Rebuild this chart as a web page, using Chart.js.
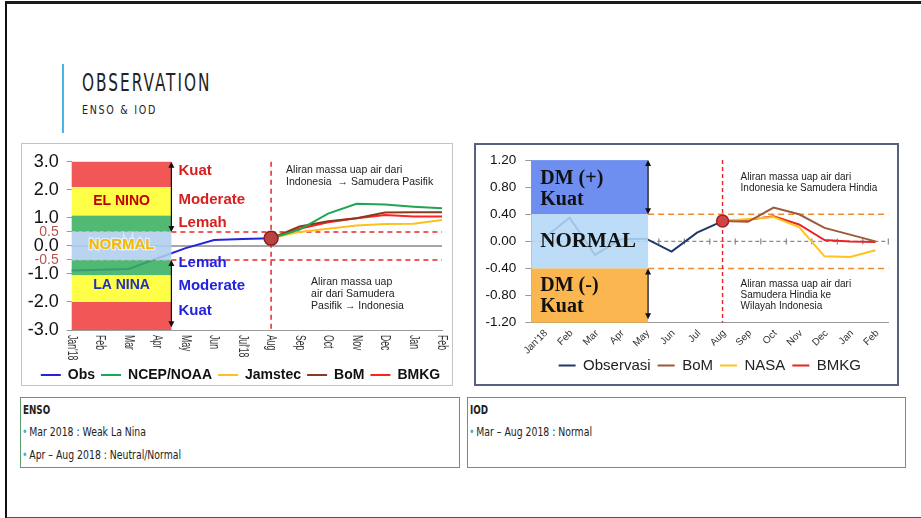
<!DOCTYPE html>
<html>
<head>
<meta charset="utf-8">
<title>Observation ENSO &amp; IOD</title>
<script src="https://cdn.jsdelivr.net/npm/chart.js@4.4.1/dist/chart.umd.min.js"></script>
<style>
  body { margin: 0; width: 921px; height: 518px; position: relative; overflow: hidden; background: #fff; font-family: Arial, "Liberation Sans", sans-serif; }
  .slide { position: absolute; left: 5px; top: 1px; width: 914px; height: 513px; border-left: 2px solid #111; border-top: 3px solid #1a1a1a; border-bottom: 2px solid #555; }
  .bar { position: absolute; left: 62px; top: 64px; width: 2px; height: 69px; background: #4bb4e6; }
  .title { position: absolute; left: 82px; top: 68px; font-family: "Liberation Sans Narrow", "DejaVu Sans Condensed", sans-serif; font-size: 25px; letter-spacing: 3px; color: #222; transform: scaleX(0.68); transform-origin: left top; white-space: nowrap; }
  .subtitle { position: absolute; left: 82px; top: 102px; font-family: "Liberation Sans Narrow", "DejaVu Sans Condensed", sans-serif; font-size: 12.5px; letter-spacing: 2px; color: #222; transform: scaleX(0.85); transform-origin: left top; white-space: nowrap; }
  .frame { position: absolute; box-sizing: border-box; }
  #ensoFrame { left: 21px; top: 143px; width: 432px; height: 243px; border: 1px solid #c4c4c4; }
  #iodFrame { left: 474px; top: 143px; width: 425px; height: 243px; border: 2px solid #55627e; }
  canvas { position: absolute; }
  #ensoChart { left: 21px; top: 143px; }
  #iodChart { left: 474px; top: 143px; }
  .box { position: absolute; top: 397px; height: 71px; box-sizing: border-box; border: 1.5px solid #5e9e6e; font-family: "Liberation Sans Narrow", "DejaVu Sans Condensed", sans-serif; font-size: 11.5px; color: #222; }
  .box .head { position: absolute; left: 2px; top: 5px; font-weight: bold; transform: scaleX(0.85); transform-origin: left top; }
  .box .item { position: absolute; left: 1px; white-space: nowrap; transform: scaleX(0.9); transform-origin: left top; }
  .box .item::before { content: "\2022"; color: #3bb5e0; margin-right: 2px; }
</style>
</head>
<body>
<div class="slide"></div>
<div class="bar"></div>
<div class="title">OBSERVATION</div>
<div class="subtitle">ENSO &amp; IOD</div>

<div class="frame" id="ensoFrame"></div>
<div class="frame" id="iodFrame"></div>
<canvas id="ensoChart" width="449" height="249"></canvas>
<canvas id="iodChart" width="424" height="240"></canvas>

<div class="box" style="left:20px; width:440px;">
  <div class="head">ENSO</div>
  <div class="item" style="top:27px;">Mar 2018 : Weak La Nina</div>
  <div class="item" style="top:50px;">Apr – Aug 2018 : Neutral/Normal</div>
</div>
<div class="box" style="left:467px; width:439px;">
  <div class="head">IOD</div>
  <div class="item" style="top:27px;">Mar – Aug 2018 : Normal</div>
</div>

<script>
'use strict';

// Data ENSO (indeks Nino 3.4)
const ensoLabels = ["Jan'18", 'Feb', 'Mar', 'Apr', 'May', 'Jun', "Jul'18", 'Aug', 'Sep', 'Oct', 'Nov', 'Dec', 'Jan', 'Feb'];
const ensoTicks = [3.0, 2.0, 1.0, 0.5, 0.0, -0.5, -1.0, -2.0, -3.0];
const ensoObs = [-0.88, -0.85, -0.82, -0.45, -0.08, 0.21, 0.25, 0.27, null, null, null, null, null, null];
const ensoNcep = [null, null, null, null, null, null, null, 0.27, 0.58, 1.15, 1.5, 1.48, 1.4, 1.34];
const ensoJamstec = [null, null, null, null, null, null, null, 0.27, 0.5, 0.61, 0.73, 0.78, 0.79, 0.92];
const ensoBom = [null, null, null, null, null, null, null, 0.27, 0.69, 0.88, 0.99, 1.19, 1.2, 1.2];
const ensoBmkg = [null, null, null, null, null, null, null, 0.27, 0.61, 0.84, 0.99, 1.1, 1.05, 1.05];

// Data IOD (Dipole Mode)
const iodLabels = ["Jan'18", 'Feb', 'Mar', 'Apr', 'May', 'Jun', 'Jul', 'Aug', 'Sep', 'Oct', 'Nov', 'Dec', 'Jan', 'Feb'];
const iodTicks = [1.2, 0.8, 0.4, 0.0, -0.4, -0.8, -1.2];
const iodObs = [0.05, 0.35, -0.2, 0.03, 0.04, -0.15, 0.13, 0.3, null, null, null, null, null, null];
const iodBom = [null, null, null, null, null, null, null, 0.3, 0.29, 0.5, 0.4, 0.2, 0.1, 0.0];
const iodNasa = [null, null, null, null, null, null, null, 0.3, 0.33, 0.36, 0.21, -0.22, -0.23, -0.13];
const iodBmkg = [null, null, null, null, null, null, null, 0.3, 0.32, 0.37, 0.25, 0.02, 0.0, -0.01];

const AUG = 7;

function line(ctx, x1, y1, x2, y2) {
    ctx.beginPath();
    ctx.moveTo(x1, y1);
    ctx.lineTo(x2, y2);
    ctx.stroke();
}

// panah dua arah vertikal
function arrow(ctx, x, y1, y2) {
    ctx.save();
    ctx.strokeStyle = '#111';
    ctx.fillStyle = '#111';
    ctx.lineWidth = 1.2;
    line(ctx, x, y1 + 3, x, y2 - 3);
    [[y1, 1], [y2, -1]].forEach(([yy, d]) => {
        ctx.beginPath();
        ctx.moveTo(x, yy);
        ctx.lineTo(x - 3, yy + 6 * d);
        ctx.lineTo(x + 3, yy + 6 * d);
        ctx.closePath();
        ctx.fill();
    });
    ctx.restore();
}

function text(ctx, str, x, y, font, color, align) {
    ctx.font = font;
    ctx.fillStyle = color;
    ctx.textAlign = align || 'left';
    ctx.textBaseline = 'middle';
    ctx.fillText(str, x, y);
}

function lineLegend(chart) {
    const items = Chart.defaults.plugins.legend.labels.generateLabels(chart);
    items.forEach(it => { it.fillStyle = it.strokeStyle; it.lineWidth = 0; });
    return items;
}

function series(label, data, color, width) {
    return {
        label: label,
        data: data,
        borderColor: color,
        backgroundColor: color,
        borderWidth: width || 2,
        pointRadius: 0,
        tension: 0,
        spanGaps: false
    };
}

const isHalf = c => c.tick && Math.abs(c.tick.value) === 0.5;

// geser legenda sedikit ke kanan seperti di slide
const shiftLegend = {
    id: 'shiftLegend',
    afterLayout(chart) {
        chart.legend.left += 9;
        chart.legend.right += 9;
    }
};

// Dekorasi grafik ENSO
const ensoDecor = {
    id: 'ensoDecor',
    beforeDatasetsDraw(chart) {
        const { ctx, chartArea: a, scales: { x, y } } = chart;
        const bandR = x.getPixelForValue(3.5);
        ctx.save();
        ctx.strokeStyle = '#8a8a8a';
        ctx.lineWidth = 1.5;
        line(ctx, a.left, y.getPixelForValue(0), a.right, y.getPixelForValue(0));
        ctx.setLineDash([5, 4]);
        ctx.strokeStyle = '#e8262a';
        ctx.lineWidth = 1.5;
        [0.5, -0.5].forEach(v => line(ctx, bandR, y.getPixelForValue(v), a.right, y.getPixelForValue(v)));
        line(ctx, x.getPixelForValue(AUG), a.top, x.getPixelForValue(AUG), a.bottom);
        ctx.restore();
    },
    afterDatasetsDraw(chart) {
        const { ctx, chartArea: a, scales: { x, y } } = chart;
        const bandL = x.getPixelForValue(0);
        const bandR = x.getPixelForValue(3.5);
        const bands = [
            [3.0, 2.1, 'rgba(240,64,64,0.88)'],
            [2.1, 1.08, 'rgba(255,255,45,0.88)'],
            [1.08, 0.5, 'rgba(56,175,96,0.88)'],
            [0.5, -0.5, 'rgba(175,206,238,0.88)'],
            [-0.5, -1.05, 'rgba(56,175,96,0.88)'],
            [-1.05, -2.0, 'rgba(255,255,45,0.88)'],
            [-2.0, -3.0, 'rgba(240,64,64,0.88)']
        ];
        ctx.save();
        bands.forEach(([hi, lo, c]) => {
            const t = y.getPixelForValue(hi);
            ctx.fillStyle = c;
            ctx.fillRect(bandL, t, bandR - bandL, y.getPixelForValue(lo) - t);
        });
        ctx.setLineDash([4, 3]);
        ctx.strokeStyle = '#c8c8c8';
        ctx.lineWidth = 1.2;
        [0.5, -0.5].forEach(v => line(ctx, bandL, y.getPixelForValue(v), bandR, y.getPixelForValue(v)));
        ctx.setLineDash([]);

        const mid = (bandL + bandR) / 2;
        text(ctx, 'EL NINO', mid, y.getPixelForValue(1.59), 'bold 14px Arial', '#c00000', 'center');
        ctx.font = 'bold 15px Arial';
        ctx.lineWidth = 2.5;
        ctx.strokeStyle = 'rgba(255,255,255,0.6)';
        ctx.textAlign = 'center';
        ctx.strokeText('NORMAL', mid, y.getPixelForValue(0.02));
        text(ctx, 'NORMAL', mid, y.getPixelForValue(0.02), 'bold 15px Arial', '#f5b800', 'center');
        text(ctx, 'LA NINA', mid, y.getPixelForValue(-1.4), 'bold 14px Arial', '#1f2fc0', 'center');

        const tx = bandR + 7;
        const red = '#d81e1e';
        const blue = '#2222e0';
        text(ctx, 'Kuat', tx, y.getPixelForValue(2.66), 'bold 15px Arial', red);
        text(ctx, 'Moderate', tx, y.getPixelForValue(1.64), 'bold 15px Arial', red);
        text(ctx, 'Lemah', tx, y.getPixelForValue(0.82), 'bold 15px Arial', red);
        text(ctx, 'Lemah', tx, y.getPixelForValue(-0.62), 'bold 15px Arial', blue);
        text(ctx, 'Moderate', tx, y.getPixelForValue(-1.43), 'bold 15px Arial', blue);
        text(ctx, 'Kuat', tx, y.getPixelForValue(-2.33), 'bold 15px Arial', blue);

        arrow(ctx, bandR, y.getPixelForValue(3.0), y.getPixelForValue(0.5));
        arrow(ctx, bandR, y.getPixelForValue(-0.5), y.getPixelForValue(-2.9));

        // titik observasi terakhir
        ctx.beginPath();
        ctx.arc(x.getPixelForValue(AUG), y.getPixelForValue(ensoObs[AUG]), 7, 0, Math.PI * 2);
        ctx.fillStyle = '#b84343';
        ctx.fill();
        ctx.lineWidth = 1.5;
        ctx.strokeStyle = '#8e1d1d';
        ctx.stroke();

        const ax = x.getPixelForValue(AUG);
        const f = '10.5px Arial';
        text(ctx, 'Aliran massa uap air dari', ax + 15, y.getPixelForValue(2.69), f, '#222');
        text(ctx, 'Indonesia  \u2192 Samudera Pasifik', ax + 15, y.getPixelForValue(2.27), f, '#222');
        text(ctx, 'Aliran massa uap', ax + 40, y.getPixelForValue(-1.29), f, '#222');
        text(ctx, 'air dari Samudera', ax + 40, y.getPixelForValue(-1.72), f, '#222');
        text(ctx, 'Pasifik \u2192 Indonesia', ax + 40, y.getPixelForValue(-2.15), f, '#222');

        // label bulan vertikal (atas ke bawah)
        ensoLabels.forEach((lb, i) => {
            ctx.save();
            ctx.translate(x.getPixelForValue(i), a.bottom + 5);
            ctx.rotate(Math.PI / 2);
            ctx.scale(0.62, 1);
            text(ctx, lb, 0, 0, '14px Arial', '#333');
            ctx.restore();
        });
        ctx.restore();
    }
};

// Dekorasi grafik IOD
const iodDecor = {
    id: 'iodDecor',
    beforeDatasetsDraw(chart) {
        const { ctx, chartArea: a, scales: { x, y } } = chart;
        const bandR = x.getPixelForValue(4.08);
        const y0 = y.getPixelForValue(0);
        ctx.save();
        ctx.strokeStyle = '#8a8a8a';
        ctx.lineWidth = 1.2;
        ctx.setLineDash([4, 3]);
        line(ctx, a.left, y0, a.right, y0);
        ctx.setLineDash([]);
        for (let i = 0; i < iodLabels.length; i++) {
            const px = x.getPixelForValue(i + 0.5);
            line(ctx, px, y0 - 3, px, y0 + 3);
        }
        ctx.setLineDash([6, 4]);
        ctx.strokeStyle = '#f08a30';
        ctx.lineWidth = 1.6;
        [0.4, -0.4].forEach(v => line(ctx, bandR, y.getPixelForValue(v), a.right, y.getPixelForValue(v)));
        ctx.setLineDash([4, 3]);
        ctx.strokeStyle = '#e8262a';
        ctx.lineWidth = 1.4;
        line(ctx, x.getPixelForValue(AUG), a.top, x.getPixelForValue(AUG), a.bottom);
        ctx.restore();
    },
    afterDatasetsDraw(chart) {
        const { ctx, chartArea: a, scales: { x, y } } = chart;
        const bandL = a.left;
        const bandR = x.getPixelForValue(4.08);
        const bands = [
            [1.2, 0.4, 'rgba(90,128,238,0.88)'],
            [0.4, -0.4, 'rgba(180,215,246,0.88)'],
            [-0.4, -1.2, 'rgba(250,172,56,0.88)']
        ];
        ctx.save();
        bands.forEach(([hi, lo, c]) => {
            const t = y.getPixelForValue(hi);
            ctx.fillStyle = c;
            ctx.fillRect(bandL, t, bandR - bandL, y.getPixelForValue(lo) - t);
        });

        const tx = bandL + 9;
        const serif = 'bold 20px "Liberation Serif", "Times New Roman", serif';
        text(ctx, 'DM (+)', tx, y.getPixelForValue(0.92), serif, '#111');
        text(ctx, 'Kuat', tx, y.getPixelForValue(0.62), serif, '#111');
        text(ctx, 'NORMAL', tx, y.getPixelForValue(-0.01), 'bold 21px "Liberation Serif", "Times New Roman", serif', '#111');
        text(ctx, 'DM (-)', tx, y.getPixelForValue(-0.66), serif, '#111');
        text(ctx, 'Kuat', tx, y.getPixelForValue(-0.96), serif, '#111');

        arrow(ctx, bandR, y.getPixelForValue(1.2), y.getPixelForValue(0.4));
        arrow(ctx, bandR, y.getPixelForValue(-0.4), y.getPixelForValue(-1.15));

        ctx.beginPath();
        ctx.arc(x.getPixelForValue(AUG), y.getPixelForValue(iodObs[AUG]), 6, 0, Math.PI * 2);
        ctx.fillStyle = '#d04444';
        ctx.fill();
        ctx.lineWidth = 1.5;
        ctx.strokeStyle = '#a02222';
        ctx.stroke();

        const ax = x.getPixelForValue(AUG) + 18;
        const f = '10px Arial';
        text(ctx, 'Aliran massa uap air dari', ax, y.getPixelForValue(0.94), f, '#222');
        text(ctx, 'Indonesia ke Samudera Hindia', ax, y.getPixelForValue(0.78), f, '#222');
        text(ctx, 'Aliran massa uap air dari', ax, y.getPixelForValue(-0.63), f, '#222');
        text(ctx, 'Samudera Hindia ke', ax, y.getPixelForValue(-0.8), f, '#222');
        text(ctx, 'Wilayah Indonesia', ax, y.getPixelForValue(-0.96), f, '#222');

        // label bulan miring 45 derajat
        iodLabels.forEach((lb, i) => {
            ctx.save();
            ctx.translate(x.getPixelForValue(i) + 2, a.bottom + 9);
            ctx.rotate(-Math.PI / 4);
            text(ctx, lb, 0, 0, '10px Arial', '#333', 'right');
            ctx.restore();
        });
        ctx.restore();
    }
};

new Chart(document.getElementById('ensoChart'), {
    type: 'line',
    data: {
        labels: ensoLabels,
        datasets: [
            series('Obs', ensoObs, '#2424dc'),
            series('NCEP/NOAA', ensoNcep, '#1fa653'),
            series('Jamstec', ensoJamstec, '#ffbf1f'),
            series('BoM', ensoBom, '#8b3a1c'),
            series('BMKG', ensoBmkg, '#ff2222')
        ]
    },
    options: {
        responsive: false,
        animation: false,
        layout: { padding: { top: 14, right: 28, left: 0, bottom: 0 } },
        scales: {
            x: {
                offset: false,
                grid: { display: false },
                border: { display: true, color: '#9a9a9a' },
                ticks: { display: false },
                afterFit(s) { s.height = 32; }
            },
            y: {
                min: -3,
                max: 3,
                afterBuildTicks(s) { s.ticks = ensoTicks.map(v => ({ value: v })); },
                grid: { drawOnChartArea: false, drawTicks: true, tickLength: 5, color: '#999' },
                border: { display: false },
                ticks: {
                    autoSkip: false,
                    padding: 8,
                    color: c => isHalf(c) ? '#b85450' : '#111',
                    font: c => ({ family: 'Arial', size: isHalf(c) ? 14 : 18 }),
                    callback: v => v.toFixed(1)
                },
                afterFit(s) { s.width = 50.7; }
            }
        },
        plugins: {
            legend: {
                position: 'bottom',
                labels: {
                    boxWidth: 20,
                    boxHeight: 2,
                    padding: 6,
                    color: '#111',
                    font: { family: 'Arial', size: 14, weight: 'bold' },
                    generateLabels: lineLegend
                }
            },
            tooltip: { enabled: false }
        }
    },
    plugins: [ensoDecor, shiftLegend]
});

new Chart(document.getElementById('iodChart'), {
    type: 'line',
    data: {
        labels: iodLabels,
        datasets: [
            series('Observasi', iodObs, '#1f3a6a'),
            series('BoM', iodBom, '#9c5a3a'),
            series('NASA', iodNasa, '#ffc21f'),
            series('BMKG', iodBmkg, '#e82424')
        ]
    },
    options: {
        responsive: false,
        animation: false,
        layout: { padding: { top: 12, right: 9.7, left: 0, bottom: 0 } },
        scales: {
            x: {
                offset: true,
                grid: { display: false },
                border: { display: true, color: '#9a9a9a' },
                ticks: { display: false },
                afterFit(s) { s.height = 28.3; }
            },
            y: {
                min: -1.2,
                max: 1.2,
                afterBuildTicks(s) { s.ticks = iodTicks.map(v => ({ value: v })); },
                grid: { drawOnChartArea: false, drawTicks: true, tickLength: 6, color: '#999' },
                border: { display: true, color: '#b0b0b0', dash: [3, 3] },
                ticks: {
                    autoSkip: false,
                    padding: 9,
                    color: '#111',
                    font: { family: 'Arial', size: 13.5 },
                    callback: v => v.toFixed(2)
                },
                afterFit(s) { s.width = 57.3; }
            }
        },
        plugins: {
            legend: {
                position: 'bottom',
                fullSize: false,
                labels: {
                    boxWidth: 17,
                    boxHeight: 2,
                    padding: 7,
                    color: '#222',
                    font: { family: 'Arial', size: 15 },
                    generateLabels: lineLegend
                }
            },
            tooltip: { enabled: false }
        }
    },
    plugins: [iodDecor]
});
</script>
</body>
</html>
